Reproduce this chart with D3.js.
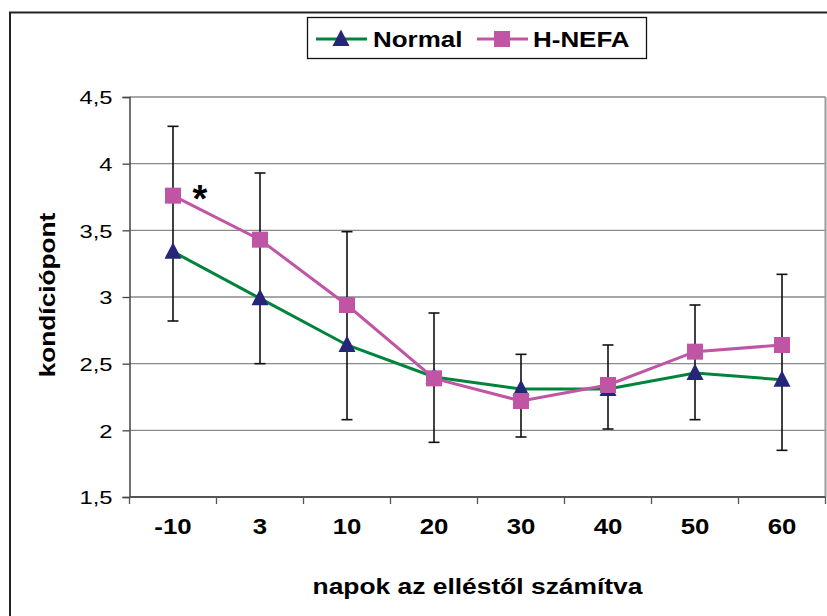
<!DOCTYPE html>
<html>
<head>
<meta charset="utf-8">
<script src="https://cdn.jsdelivr.net/npm/d3@7"></script>
<style>
  html, body { margin: 0; padding: 0; background: #fff; }
  svg { display: block; font-family: "Liberation Sans", Arial, sans-serif; }
</style>
</head>
<body>
<svg id="chart" width="827" height="616"></svg>
<script>
// ---- data ----
const categories = ["-10", "3", "10", "20", "30", "40", "50", "60"];
const normalValues = [3.34, 2.99, 2.64, 2.40, 2.31, 2.31, 2.43, 2.38];
const hnefaValues  = [3.76, 3.43, 2.94, 2.39, 2.22, 2.34, 2.59, 2.64];
const errorHigh = [4.28, 3.93, 3.49, 2.88, 2.57, 2.64, 2.94, 3.17];
const errorLow  = [2.82, 2.50, 2.08, 1.91, 1.95, 2.01, 2.08, 1.85];
const yTicks = [1.5, 2, 2.5, 3, 3.5, 4, 4.5];
const seriesNames = ["Normal", "H-NEFA"];
const significantIndex = [0];

// ---- layout ----
const W = 827, H = 616;
const plot = { left: 129.5, right: 825.5, top: 97, bottom: 497 };
const colors = { normal: "#00843C", tri: "#262678", hnefa: "#C054A5" };

const svg = d3.select("#chart");
svg.append("rect").attr("width", W).attr("height", H).attr("fill", "#fff");

// outer chart border
svg.append("rect")
  .attr("x", 10).attr("y", 12.5).attr("width", 840).attr("height", 640)
  .attr("fill", "none").attr("stroke", "#222").attr("stroke-width", 2);

const x = d3.scaleBand().domain(categories).range([plot.left, plot.right]).padding(0);
const y = d3.scaleLinear().domain([1.5, 4.5]).range([plot.bottom, plot.top]);
const cx = d => x(d) + x.bandwidth() / 2;

// gridlines
svg.append("g").selectAll("line").data(yTicks.filter(t => t > 1.5))
  .join("line")
  .attr("x1", plot.left).attr("x2", plot.right)
  .attr("y1", d => y(d)).attr("y2", d => y(d))
  .attr("stroke", "#8a8a8a").attr("stroke-width", 1.3);

// plot area right border
svg.append("line")
  .attr("x1", plot.right).attr("x2", plot.right)
  .attr("y1", plot.top).attr("y2", plot.bottom)
  .attr("stroke", "#999").attr("stroke-width", 2);

// y axis
const yAxis = svg.append("g")
  .attr("transform", `translate(${plot.left},0)`)
  .call(d3.axisLeft(y).tickValues(yTicks).tickSize(7).tickPadding(0)
    .tickFormat(d => String(d).replace(".", ",")));
yAxis.select(".domain").attr("stroke", "#444").attr("stroke-width", 1.5);
yAxis.selectAll(".tick line").attr("stroke", "#444").attr("stroke-width", 1.3);
yAxis.selectAll(".tick text")
  .attr("x", 0).attr("dy", "0.36em")
  .attr("font-size", 19).attr("fill", "#000")
  .attr("font-family", "Liberation Sans, Arial, sans-serif")
  .attr("transform", "translate(-17,0) scale(1.25,1)");

// x axis
const xAxisG = svg.append("g");
xAxisG.append("line")
  .attr("x1", plot.left).attr("x2", plot.right)
  .attr("y1", plot.bottom).attr("y2", plot.bottom)
  .attr("stroke", "#555").attr("stroke-width", 2);
const boundaries = categories.map(c => x(c)).concat([x.range()[1]]);
xAxisG.selectAll("line.tick").data(boundaries).join("line")
  .attr("class", "tick")
  .attr("x1", d => d).attr("x2", d => d)
  .attr("y1", plot.bottom).attr("y2", plot.bottom + 7)
  .attr("stroke", "#555").attr("stroke-width", 1.3);
xAxisG.selectAll("text").data(categories).join("text")
  .attr("transform", d => `translate(${cx(d)},534) scale(1.2,1)`)
  .attr("text-anchor", "middle")
  .attr("font-size", 21.5).attr("font-weight", "bold").attr("fill", "#000")
  .text(d => d);

// axis titles
svg.append("text")
  .attr("transform", `translate(${(plot.left + plot.right) / 2},594) scale(1.2,1)`)
  .attr("text-anchor", "middle").attr("font-size", 22).attr("font-weight", "bold")
  .text("napok az elléstől számítva");
svg.append("text")
  .attr("transform", `translate(55,${(plot.top + plot.bottom) / 2 - 2}) rotate(-90) scale(1.22,1)`)
  .attr("text-anchor", "middle").attr("font-size", 21.5).attr("font-weight", "bold")
  .text("kondíciópont");

// lines
const line = d3.line().x((d, i) => cx(categories[i])).y(d => y(d));
svg.append("path").datum(normalValues).attr("d", line)
  .attr("fill", "none").attr("stroke", colors.normal).attr("stroke-width", 3);
svg.append("path").datum(hnefaValues).attr("d", line)
  .attr("fill", "none").attr("stroke", colors.hnefa).attr("stroke-width", 3);

// error bars
const eb = svg.append("g").attr("stroke", "#111").attr("stroke-width", 1.6);
categories.forEach((c, i) => {
  const xc = cx(c);
  eb.append("line").attr("x1", xc).attr("x2", xc).attr("y1", y(errorHigh[i])).attr("y2", y(errorLow[i]));
  eb.append("line").attr("x1", xc - 5.5).attr("x2", xc + 5.5).attr("y1", y(errorHigh[i])).attr("y2", y(errorHigh[i]));
  eb.append("line").attr("x1", xc - 5.5).attr("x2", xc + 5.5).attr("y1", y(errorLow[i])).attr("y2", y(errorLow[i]));
});

// markers
const triPath = (xc, yc) => `M${xc},${yc - 9.5}L${xc + 8.5},${yc + 7}L${xc - 8.5},${yc + 7}Z`;
svg.append("g").selectAll("path").data(normalValues).join("path")
  .attr("d", (d, i) => triPath(cx(categories[i]), y(d)))
  .attr("fill", colors.tri);
svg.append("g").selectAll("rect").data(hnefaValues).join("rect")
  .attr("x", (d, i) => cx(categories[i]) - 8).attr("y", d => y(d) - 8)
  .attr("width", 16).attr("height", 16)
  .attr("fill", colors.hnefa);

// significance marker
svg.append("g").selectAll("text").data(significantIndex).join("text")
  .attr("x", i => cx(categories[i]) + 27).attr("y", i => y(hnefaValues[i]) + 16)
  .attr("text-anchor", "middle").attr("font-size", 38).attr("font-weight", "bold")
  .text("*");

// legend
const lg = svg.append("g");
lg.append("rect").attr("x", 307.5).attr("y", 17.5).attr("width", 339).attr("height", 41)
  .attr("fill", "#fff").attr("stroke", "#111").attr("stroke-width", 1.3);
const ly = 39;
lg.append("line").attr("x1", 316).attr("x2", 367).attr("y1", ly).attr("y2", ly)
  .attr("stroke", colors.normal).attr("stroke-width", 3);
lg.append("path").attr("d", triPath(341, ly)).attr("fill", colors.tri);
lg.append("text").attr("transform", `translate(373,47) scale(1.18,1)`)
  .attr("font-size", 22).attr("font-weight", "bold").text(seriesNames[0]);
lg.append("line").attr("x1", 477).attr("x2", 528).attr("y1", ly).attr("y2", ly)
  .attr("stroke", colors.hnefa).attr("stroke-width", 3);
lg.append("rect").attr("x", 494).attr("y", ly - 8).attr("width", 16).attr("height", 16)
  .attr("fill", colors.hnefa);
lg.append("text").attr("transform", `translate(533,47) scale(1.18,1)`)
  .attr("font-size", 22).attr("font-weight", "bold").text(seriesNames[1]);
</script>
</body>
</html>
